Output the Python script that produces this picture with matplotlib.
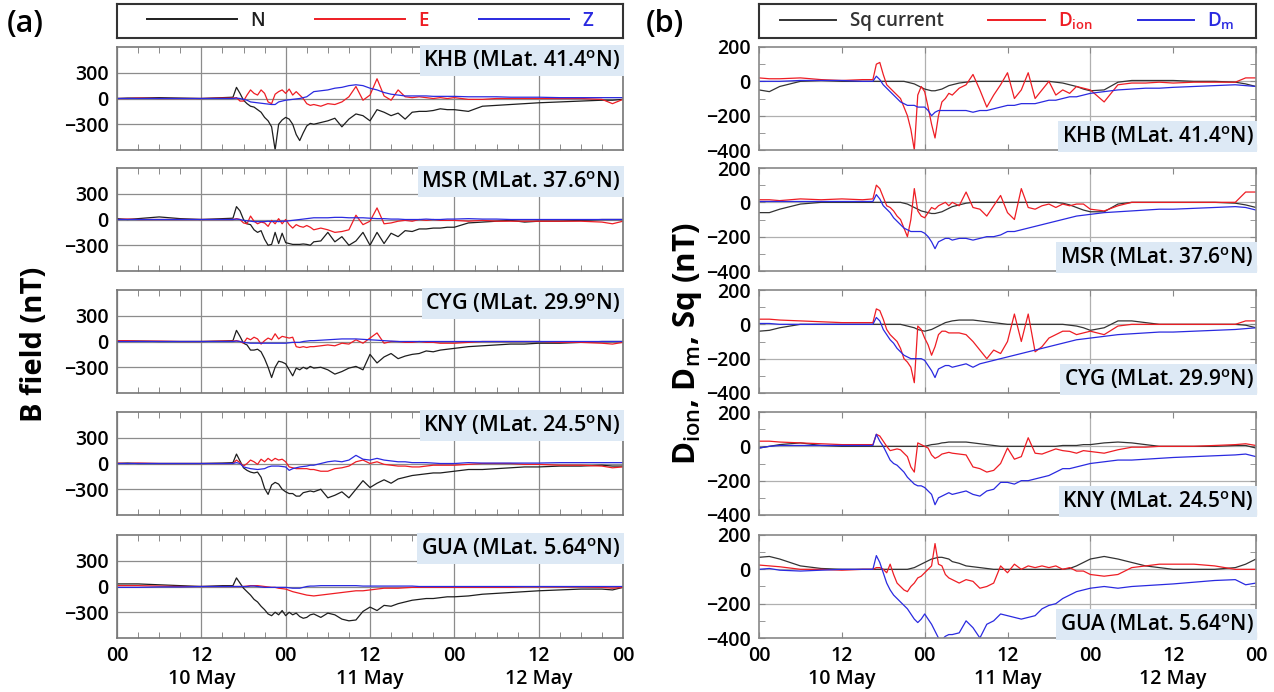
import matplotlib
matplotlib.use('Agg')
import matplotlib.pyplot as plt
import matplotlib.transforms as mtransforms
from matplotlib.ticker import MultipleLocator
import numpy as np

plt.rcParams['font.family'] = ['Open Sans', 'DejaVu Sans']
plt.rcParams['font.weight'] = 'semibold'
plt.rcParams['mathtext.fontset'] = 'custom'
plt.rcParams['mathtext.rm'] = 'Open Sans:semibold'
plt.rcParams['mathtext.it'] = 'Open Sans:semibold'
plt.rcParams['mathtext.bf'] = 'Open Sans:bold'

# time axis: hours since 10 May 00 UT
hours = [0, 1.5, 3, 6, 9, 12, 15, 16.5,
         17, 17.5, 18, 18.5, 19, 19.5, 20, 20.5, 21, 21.5, 22, 22.5,
         23, 23.5, 24, 24.5, 25, 25.5, 26, 26.5, 27, 27.5, 28,
         29, 30, 31, 32, 33, 34, 35, 36, 37, 38,
         39, 40, 41, 42, 43, 44, 45, 46, 47, 48,
         50, 52, 54, 56, 58, 60, 63, 66, 69, 70.5, 72]

stations = ['KHB', 'MSR', 'CYG', 'KNY', 'GUA']
mlat = ['41.4', '37.6', '29.9', '24.5', '5.64']

# ---- (a) B field components (nT) ----
khb_n = [0, 5, 5, 10, 5, 0, 10, 15,
         130, 60, -20, -60, -90, -100, -130, -160, -220, -260, -330, -600,
         -300, -250, -220, -240, -300, -420, -490, -400, -320, -290, -300,
         -280, -260, -230, -330, -240, -180, -200, -260, -130, -160,
         -200, -170, -240, -160, -150, -150, -140, -120, -130, -130,
         -150, -90, -80, -70, -60, -50, -40, -30, -20, -20, -10]
khb_e = [0, 0, 5, 0, 0, 0, 5, 5,
         10, -30, -30, 40, 100, 60, 40, 100, 60, -40, -60, 50,
         80, 100, 60, 110, 40, 80, 40, 0, -60, -80, -70,
         -90, -60, -70, -40, 20, 140, -20, 40, 230, 30,
         -20, 100, 20, 10, 20, 10, 0, 10, 0, 10,
         -10, -10, 0, 0, 0, 0, 0, 0, -10, -60, -10]
khb_z = [0, 0, 0, 0, 0, 0, 0, 0,
         5, 0, -10, -20, -40, -45, -50, -55, -60, -65, -70, -70,
         -40, -30, -20, -15, -10, -5, 0, 10, 20, 50, 80,
         90, 100, 120, 130, 150, 160, 150, 120, 100, 70,
         50, 40, 30, 30, 30, 30, 25, 25, 25, 25,
         20, 20, 20, 15, 15, 15, 10, 10, 10, 10, 10]

msr_n = [10, 0, 10, 30, 10, 0, 10, 15,
         150, 100, 0, -50, -60, -120, -150, -130, -230, -300, -290, -150,
         -280, -160, -270, -280, -290, -290, -290, -285, -290, -300, -260,
         -250, -150, -260, -200, -300, -250, -150, -300, -150, -280,
         -160, -200, -130, -140, -110, -110, -100, -100, -90, -90,
         -40, -30, -20, -10, -30, -20, -20, -10, 0, 0, 0]
msr_e = [0, 5, 0, 0, 0, 0, 0, 0,
         10, 0, -40, -50, 40, -20, -50, -30, -40, -80, -10, -50,
         10, -50, 0, -60, -100, -60, -80, -90, -70, -90, -120,
         -100, -120, -150, -140, -120, 50, -60, -20, 135, -50,
         -40, -20, -10, -20, 0, -10, 0, -10, -10, -10,
         -20, -10, -20, -20, -20, -20, -20, -20, -30, -50, -20]
msr_z = [0, 0, 0, 0, 0, 0, 0, 0,
         5, 0, -10, -15, -20, -25, -25, -25, -25, -20, -25, -20,
         -25, -20, -20, -15, -10, -5, 0, 5, 10, 15, 20,
         20, 20, 25, 25, 20, 20, 20, 15, 10, 10,
         5, 5, 0, 0, 0, 5, 0, 0, 5, 5,
         10, 5, 5, 0, 0, 0, 0, 0, 0, 0, 0]

cyg_n = [10, 5, 5, 0, 0, 0, 5, 10,
         130, 60, -20, -40, -100, -100, -90, -120, -200, -300, -420, -300,
         -230, -240, -260, -330, -400, -310, -330, -300, -320, -290, -310,
         -300, -330, -380, -350, -310, -290, -330, -150, -250, -180,
         -140, -200, -170, -150, -140, -110, -120, -100, -90, -80,
         -60, -50, -40, -30, -30, -20, -20, -10, 0, 0, 0]
cyg_e = [10, 10, 5, 5, 0, 0, 5, 5,
         10, 0, -20, 40, 20, 50, 30, -30, 10, 40, 20, 90,
         30, 60, 50, 40, 50, -60, -70, -60, -70, -60, -60,
         -50, -40, -50, -20, -30, 20, -20, 40, 100, -20,
         0, 0, -10, -10, 0, -10, -10, -20, -20, -20,
         -10, 0, 0, 0, 0, 0, -10, -10, -20, -30, -10]
cyg_z = [0, 0, 0, 0, 0, 0, 0, 0,
         5, 0, -10, -15, -20, -20, -20, -20, -20, -20, -20, -20,
         -20, -20, -20, -15, -10, -10, -10, 0, 5, 10, 10,
         15, 20, 25, 30, 30, 30, 25, 20, 15, 10,
         5, 0, 0, 0, 0, 0, 0, 0, 0, 0,
         0, 0, 0, 0, 0, 0, 0, 0, 0, 0, 0]

kny_n = [0, 5, 0, 0, 0, 0, 5, 10,
         110, 30, -50, -80, -100, -110, -100, -160, -290, -360, -250, -220,
         -240, -300, -330, -350, -350, -380, -380, -340, -330, -320, -330,
         -300, -400, -370, -330, -400, -300, -200, -280, -230, -190,
         -230, -180, -160, -140, -130, -120, -110, -110, -100, -90,
         -70, -70, -60, -50, -40, -40, -30, -30, -20, -30, -30]
kny_e = [5, 0, 5, 0, 0, 0, 0, 0,
         40, 10, -30, 0, 40, 20, -10, 50, 20, 60, 30, 60,
         40, 50, 20, -40, -50, -60, -60, -60, -60, -70, -70,
         -90, -90, -60, -50, -30, 20, 40, 0, 20, -10,
         -20, -30, -30, -40, -40, -30, -20, -20, -20, -20,
         -10, 0, 0, 0, -10, -10, -20, -20, -30, -50, -40]
kny_z = [0, 0, 0, 0, 0, 0, 0, 0,
         10, 0, -40, -50, -60, -65, -70, -65, -60, -40, -30, -30,
         -30, -35, -40, -80, -60, -50, -40, -35, -30, -20, -20,
         0, 20, 30, 20, 40, 95, 50, 40, 60, 40,
         30, 20, 20, 10, 10, 10, 5, 0, 0, 0,
         10, 5, 5, 5, 5, 5, 10, 10, 10, 10, 10]

gua_n = [30, 30, 30, 20, 10, 0, 10, 10,
         100, 40, -20, -60, -100, -150, -180, -230, -270, -320, -340, -300,
         -330, -280, -340, -300, -330, -310, -350, -370, -360, -330, -320,
         -360, -310, -330, -380, -400, -390, -290, -240, -280, -220,
         -230, -200, -180, -160, -150, -140, -140, -130, -120, -120,
         -110, -90, -80, -70, -60, -50, -40, -30, -30, -40, -10]
gua_e = [10, 10, 10, 5, 0, 0, 0, 0,
         0, 0, 0, 5, 10, 10, 10, 5, 0, -5, -10, -10,
         -20, -25, -30, -45, -60, -70, -80, -90, -100, -105, -110,
         -100, -90, -80, -70, -60, -50, -50, -40, -30, -20,
         -20, -20, -15, -10, -10, -10, -10, -10, -10, -10,
         -10, -10, -10, -10, -5, -5, -5, -5, -10, -20, -10]
gua_z = [-10, -10, -10, -5, -5, 0, 0, 0,
         0, 0, 0, 0, 5, 5, 0, -5, -10, -10, -10, -10,
         -10, -10, -10, -15, -20, -20, -20, -10, 0, 5, 5,
         10, 10, 10, 10, 10, 10, 5, 5, 5, 5,
         5, 5, 5, 5, 0, 0, 0, 0, 0, 0,
         0, 0, 0, 0, 0, 0, 0, 0, 0, 0, 0]

# ---- (b) Sq current, D_ion, D_m (nT) ----
khb_sq = [-50, -60, -30, 0, 5, 0, 0, 0,
          0, 0, 0, 0, 0, 0, 0, 0, 0, -5, -10, -15,
          -25, -35, -45, -50, -55, -55, -50, -45, -35, -25, -20,
          -10, -5, 0, 0, 0, 0, 0, 0, 0, 0,
          0, 0, 0, 0, -5, -10, -20, -30, -45, -55,
          -50, -5, 5, 5, 5, 5, 0, 0, -5, -15, -30]
khb_dion = [20, 15, 15, 20, 10, 5, 10, 10,
            100, 110, 40, -20, -40, -60, -80, -100, -150, -200, -280, -400,
            -80, -30, -60, -150, -250, -330, -200, -120, -100, -70, -80,
            -40, -20, 40, -50, -150, -80, -20, 50, -100, -50,
            50, -100, -50, 0, -80, -50, -70, -30, -40, -50,
            -120, -20, -10, -10, -5, -10, -5, -5, -5, 20, 20]
khb_dm = [0, 0, 0, 5, 5, 5, 0, 0,
          30, 10, -20, -40, -60, -80, -100, -120, -130, -140, -140, -140,
          -150, -150, -150, -170, -200, -180, -170, -170, -170, -170, -170,
          -170, -170, -180, -170, -170, -160, -150, -140, -140, -130,
          -130, -130, -120, -110, -110, -100, -90, -90, -80, -70,
          -60, -50, -45, -40, -40, -35, -30, -25, -20, -25, -30]

msr_sq = [-60, -60, -40, -10, 0, 0, 0, 0,
          0, 0, 0, 0, 0, 0, 0, 0, -5, -10, -20, -30,
          -40, -50, -55, -60, -65, -65, -60, -55, -45, -35, -25,
          -15, -5, 0, 0, 0, 0, 0, 0, 0, 0,
          0, 0, 0, 0, 0, -5, -15, -30, -45, -55,
          -55, -10, 0, 0, 0, 0, 0, 0, -5, -15, -30]
msr_dion = [15, 15, 10, 20, 15, 20, 15, 20,
            100, 80, 30, -20, -30, -50, -80, -100, -150, -200, -100, 80,
            -50, -80, -90, -60, -30, -40, -20, -10, 0, -20, 0,
            -20, 60, -30, -40, -80, -20, 40, -60, -100, 80,
            -30, -40, -20, -10, -30, -10, -20, -10, -10, -40,
            -50, -20, 0, 0, 0, 0, 0, 0, 0, 60, 60]
msr_dm = [5, 5, 5, 5, 5, 5, 5, 5,
          45, 20, -20, -40, -60, -90, -110, -130, -150, -160, -170, -170,
          -170, -170, -180, -200, -230, -270, -230, -220, -210, -210, -220,
          -210, -210, -220, -210, -200, -200, -190, -170, -170, -160,
          -150, -140, -130, -120, -110, -100, -90, -80, -75, -70,
          -60, -55, -50, -45, -40, -40, -35, -30, -25, -30, -45]

cyg_sq = [-40, -35, -20, 0, 0, 0, 0, 0,
          0, 0, 0, 0, 0, 0, 0, 0, -5, -10, -15, -20,
          -30, -35, -40, -35, -30, -20, -10, 0, 10, 15, 20,
          25, 25, 25, 20, 15, 10, 5, 0, 0, 0,
          0, 0, 0, 0, 0, 0, -5, -10, -20, -35,
          -20, 20, 20, 10, 0, 0, 0, 0, 0, -5, -20]
cyg_dion = [30, 30, 25, 20, 15, 10, 10, 10,
            90, 80, 30, -30, -60, -80, -100, -140, -200, -220, -250, -340,
            -10, -30, -80, -120, -180, -130, -60, -40, -40, -50, -50,
            -50, -60, -100, -150, -200, -150, -170, -100, 60, -100,
            60, -160, -130, -80, -60, -40, -40, -60, -50, -40,
            -60, -10, 0, 0, 0, 0, 0, 0, 0, 20, 20]
cyg_dm = [5, 5, 0, 0, 0, 0, 0, 0,
          40, 20, -30, -60, -90, -110, -140, -160, -180, -190, -200, -200,
          -200, -200, -210, -240, -270, -310, -260, -250, -240, -240, -250,
          -240, -230, -250, -230, -220, -210, -200, -190, -180, -170,
          -160, -150, -140, -130, -120, -110, -100, -90, -85, -80,
          -70, -60, -55, -50, -45, -45, -40, -35, -30, -25, -20]

kny_sq = [-10, 0, 10, 20, 5, 0, 0, 0,
          0, 0, 0, 0, 0, 0, 0, 0, 0, 0, 0, 0,
          0, 0, 0, 5, 10, 12, 15, 20, 22, 25, 25,
          25, 25, 20, 15, 10, 5, 0, 0, 0, 0,
          0, 0, 0, 0, 0, 5, 5, 5, 10, 10,
          20, 25, 20, 10, 0, 0, 0, 0, 5, 5, -10]
kny_dion = [30, 30, 25, 20, 15, 10, 10, 10,
            70, 60, 30, 0, -25, -20, -15, -20, -40, -60, -120, -150,
            20, 10, 0, -10, -50, -70, -60, -45, -40, -35, -40,
            -45, -50, -120, -130, -150, -140, -100, -10, -75, -60,
            50, -40, -45, -30, -15, -25, -30, -40, -25, -30,
            -40, -20, -5, -5, 0, 0, 0, 5, 10, 15, 5]
kny_dm = [-10, 0, 5, 5, 5, 5, 5, 5,
          70, 30, 0, -40, -80, -100, -110, -130, -150, -180, -200, -220,
          -230, -230, -240, -260, -280, -340, -300, -290, -280, -270, -280,
          -270, -260, -280, -290, -260, -250, -210, -210, -220, -200,
          -200, -190, -180, -170, -150, -130, -130, -120, -110, -100,
          -90, -80, -80, -75, -70, -65, -60, -55, -50, -45, -60]

gua_sq = [70, 75, 60, 20, 5, 0, 0, 0,
          0, 0, 0, 0, 0, 0, 0, 0, 0, 0, 5, 10,
          20, 30, 40, 50, 60, 65, 70, 70, 65, 60, 45,
          35, 20, 15, 10, 5, 0, 0, 0, 0, 0,
          0, 0, 0, 0, 0, 0, 5, 20, 40, 60,
          75, 60, 40, 20, 10, 0, 0, 0, 10, 30, 60]
gua_dion = [25, 20, 15, 0, 0, -5, 0, 0,
            10, 10, 0, -20, 30, -30, -80, -100, -120, -130, -100, -80,
            -50, -40, -20, 0, 20, 150, 30, 20, -30, -50, -60,
            -80, -60, -70, -110, -100, -80, 20, -20, 30, 0,
            20, 10, 20, 10, 20, 0, 10, -10, -10, -30,
            -40, -30, 10, 20, 30, 30, 30, 20, 0, 0, 0]
gua_dm = [0, 5, -5, -10, -5, 0, 0, 0,
          80, 40, -20, -80, -120, -150, -170, -190, -210, -230, -260, -290,
          -310, -290, -260, -290, -320, -360, -400, -410, -390, -380, -380,
          -370, -300, -340, -400, -320, -300, -260, -270, -280, -290,
          -280, -270, -230, -210, -200, -170, -150, -130, -120, -110,
          -100, -110, -100, -95, -90, -85, -75, -65, -60, -90, -80]

n_data = [khb_n, msr_n, cyg_n, kny_n, gua_n]
e_data = [khb_e, msr_e, cyg_e, kny_e, gua_e]
z_data = [khb_z, msr_z, cyg_z, kny_z, gua_z]
sq_data = [khb_sq, msr_sq, cyg_sq, kny_sq, gua_sq]
dion_data = [khb_dion, msr_dion, cyg_dion, kny_dion, gua_dion]
dm_data = [khb_dm, msr_dm, cyg_dm, kny_dm, gua_dm]

xlabels = ['00', '12', '00', '12', '00', '12', '00']
dates = ['10 May', '11 May', '12 May']

BLACK = '#1e1e1e'
RED = '#ee1d24'
BLUE = '#2a2ae0'
LABEL_BG = '#dde9f5'

W, H = 1274.0, 692.0
tops = [47, 168, 290, 412, 535]
ph = 103


def rect(x0, x1, top, h):
    return [x0 / W, 1 - (top + h) / H, (x1 - x0) / W, h / H]


def station_label(i):
    return '%s (MLat. %s$^{\\rm o}$N)' % (stations[i], mlat[i])


fig = plt.figure(figsize=(12.74, 6.92), dpi=100)

left_axes = []
right_axes = []
for i in range(5):
    # ---- panel (a) ----
    ax = fig.add_axes(rect(117, 623, tops[i], ph))
    ln_n, = ax.plot(hours, n_data[i], color=BLACK, lw=0.9, label='N')
    ln_e, = ax.plot(hours, e_data[i], color=RED, lw=0.9, label='E')
    ln_z, = ax.plot(hours, z_data[i], color=BLUE, lw=0.9, label='Z')
    ax.set_xlim(0, 72)
    ax.set_ylim(-600, 600)
    ax.set_yticks([-300, 0, 300])
    ax.set_xticks(range(0, 73, 12))
    ax.xaxis.set_minor_locator(MultipleLocator(3))
    ax.grid(True, which='major', color='#8c8c8c', lw=0.9)
    ax.tick_params(which='both', direction='in', top=True, labelsize=14)
    ax.tick_params(which='major', length=0, pad=6)
    ax.tick_params(which='minor', length=4, color='#777777')
    for s in ax.spines.values():
        s.set_color('#777777')
        s.set_linewidth(1.2)
    ax.text(0.995, 0.985, station_label(i),
            transform=ax.transAxes, ha='right', va='top', fontsize=15.5,
            bbox=dict(facecolor=LABEL_BG, edgecolor='none', pad=2.5))
    if i == 0:
        legend_a = [ln_n, ln_e, ln_z]
    left_axes.append(ax)

    # ---- panel (b) ----
    bx = fig.add_axes(rect(759, 1256, tops[i], ph))
    ln_sq, = bx.plot(hours, sq_data[i], color='#333333', lw=0.9, label='Sq current')
    ln_di, = bx.plot(hours, dion_data[i], color=RED, lw=0.9, label='D$_{\\rm ion}$')
    ln_dm, = bx.plot(hours, dm_data[i], color=BLUE, lw=0.9, label='D$_{\\rm m}$')
    bx.set_xlim(0, 72)
    bx.set_ylim(-400, 200)
    bx.set_yticks([-400, -200, 0, 200])
    bx.yaxis.set_minor_locator(MultipleLocator(100))
    bx.set_xticks(range(0, 73, 12))
    for v in [0, -200]:
        bx.axhline(v, color='#b0b0b0', lw=0.9, zorder=0)
    for v in [24, 48]:
        bx.axvline(v, color='#b0b0b0', lw=0.9, zorder=0)
    bx.tick_params(which='both', direction='in', top=True, right=True,
                   labelsize=14, color='#888888')
    bx.tick_params(which='major', length=4, pad=6)
    bx.tick_params(which='minor', length=4)
    for s in bx.spines.values():
        s.set_color('#888888')
        s.set_linewidth(1.2)
    bx.text(0.995, 0.015, station_label(i),
            transform=bx.transAxes, ha='right', va='bottom', fontsize=15,
            bbox=dict(facecolor=LABEL_BG, edgecolor='none', pad=2.5))
    if i == 0:
        legend_b = [ln_sq, ln_di, ln_dm]
    right_axes.append(bx)

for axes in (left_axes, right_axes):
    for ax in axes[:-1]:
        ax.set_xticklabels([])
    last = axes[-1]
    last.set_xticklabels(xlabels)
    trans = mtransforms.blended_transform_factory(last.transData, last.transAxes)
    for k, d in enumerate(dates):
        last.text(12 + 24 * k, -0.30, d, transform=trans, ha='center', va='top', fontsize=14)

# legend boxes
for x0, x1, handles, hl, cs in [(117, 623, legend_a, 4.8, 2.7), (759, 1256, legend_b, 3.0, 2.4)]:
    lax = fig.add_axes(rect(x0, x1, 4, 34))
    lax.set_xticks([])
    lax.set_yticks([])
    for s in lax.spines.values():
        s.set_color('#333333')
        s.set_linewidth(1.5)
    leg = lax.legend(handles=handles, loc='center', ncol=3, frameon=False,
                     handlelength=hl, columnspacing=cs, handletextpad=0.7,
                     labelcolor='linecolor', prop={'size': 13.5, 'weight': 'semibold'})
    for line in leg.get_lines():
        line.set_linewidth(1.4)

fig.text(0.005, 0.966, '(a)', fontsize=22, va='center', ha='left')
fig.text(0.507, 0.966, '(b)', fontsize=22, va='center', ha='left')
fig.text(0.027, 0.503, 'B field (nT)', rotation=90, fontsize=21, weight='bold',
         va='center', ha='center')
fig.text(0.540, 0.503, 'D$_{\\rm ion}$, D$_{\\rm m}$, Sq (nT)', rotation=90,
         fontsize=22.5, weight='bold', va='center', ha='center')

fig.savefig('out.png', dpi=100)
